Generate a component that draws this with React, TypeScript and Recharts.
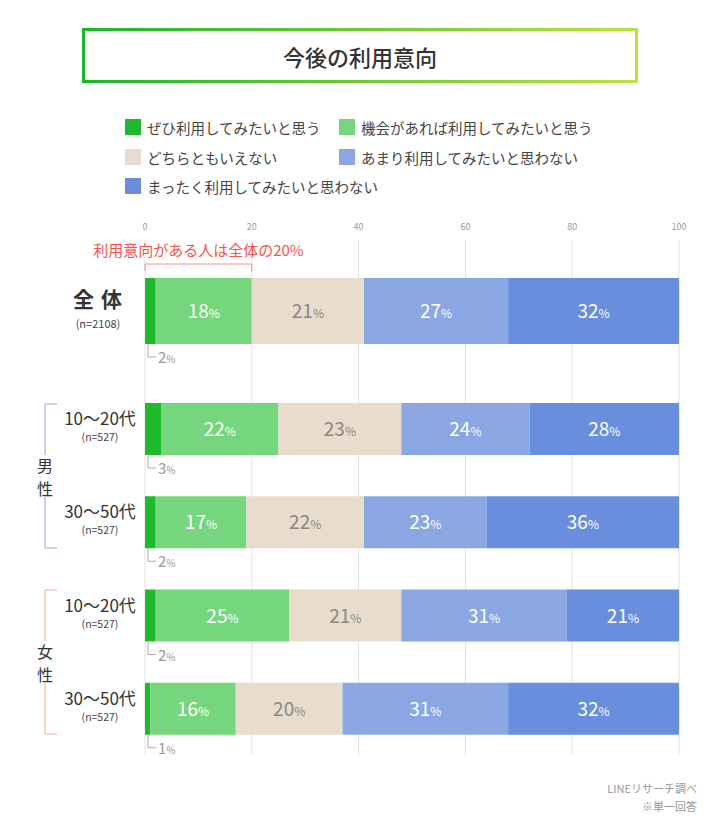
import { Bar, BarChart, CartesianGrid, LabelList, XAxis, YAxis } from "recharts";

const rowKeys = ["total", "m1", "m2", "f1", "f2"];
const rowLabels = ["全 体", "10〜20代", "30〜50代", "10〜20代", "30〜50代"];
const rowCounts = ["(n=2108)", "(n=527)", "(n=527)", "(n=527)", "(n=527)"];
const definitely = [2, 3, 2, 2, 1];
const ifChance = [18, 22, 17, 25, 16];
const neutral = [21, 23, 22, 21, 20];
const notMuch = [27, 24, 23, 31, 31];
const notAtAll = [32, 28, 36, 21, 32];
const seriesKeys = ["definitely", "ifChance", "neutral", "notMuch", "notAtAll"];
const seriesNames = [
  "ぜひ利用してみたいと思う",
  "機会があれば利用してみたいと思う",
  "どちらともいえない",
  "あまり利用してみたいと思わない",
  "まったく利用してみたいと思わない",
];
const seriesColors = ["#1dba2c", "#76d67e", "#e9dccd", "#8aa6e3", "#6a8ede"];
const xTicks = [0, 20, 40, 60, 80, 100];
const annotation = "利用意向がある人は全体の20%";

const data = rowKeys.map((key, i) => ({
  key,
  label: rowLabels[i],
  n: rowCounts[i],
  definitely: definitely[i],
  ifChance: ifChance[i],
  neutral: neutral[i],
  notMuch: notMuch[i],
  notAtAll: notAtAll[i],
}));

const FONT = '"Noto Sans CJK JP", "Noto Sans", sans-serif';
const LEFT = 145;
const RIGHT = 41;

function InnerLabel(props: any) {
  const { x, y, width, height, value, fill } = props;
  const cx = Number(x) + Number(width) / 2;
  const cy = Number(y) + Number(height) / 2 + 7;
  return (
    <text x={cx} y={cy} textAnchor="middle" fill={fill} fontFamily={FONT}>
      <tspan fontSize={19}>{value}</tspan>
      <tspan fontSize={12}>%</tspan>
    </text>
  );
}

// first segment: row label on the left, "└2%" callout below, bracket on the total row
function Callout(props: any) {
  const { x, y, width, height, value, index, rows, big } = props;
  const row = rows[index];
  const bx = Number(x);
  const top = Number(y);
  const bottom = top + Number(height);
  const mid = top + Number(height) / 2;
  const lx = bx + 3;
  const ly = bottom + 13;
  let bracket = null;
  if (big) {
    const perUnit = Number(width) / Number(value);
    const endX = bx + perUnit * (definitely[0] + ifChance[0]);
    const by = top - 14;
    bracket = (
      <g>
        <path d={`M${bx},${by + 7} V${by} H${endX} V${by + 7}`} fill="none" stroke="#f7948a" strokeWidth={1} />
        <text x={(bx + endX) / 2} y={by - 8} textAnchor="middle" fill="#f5544a" fontSize={15} fontFamily={FONT}>
          {annotation}
        </text>
      </g>
    );
  }
  const labelX = bx - (big ? 47 : 45);
  return (
    <g>
      {big ? (
        <>
          <text x={labelX} y={mid - 4} textAnchor="middle" fill="#333" fontSize={21} fontWeight={700} letterSpacing={1} fontFamily={FONT}>
            {row.label}
          </text>
          <text x={labelX} y={mid + 17} textAnchor="middle" fill="#444" fontSize={11} fontFamily={FONT}>
            {row.n}
          </text>
        </>
      ) : (
        <>
          <text x={labelX} y={mid - 4} textAnchor="middle" fill="#333" fontSize={17} fontFamily={FONT}>
            {row.label}
          </text>
          <text x={labelX} y={mid + 12} textAnchor="middle" fill="#444" fontSize={10.5} fontFamily={FONT}>
            {row.n}
          </text>
        </>
      )}
      <path d={`M${lx},${bottom} V${ly} H${lx + 8}`} fill="none" stroke="#aaa" strokeWidth={1} />
      <text x={lx + 10} y={ly + 6} fill="#999" fontFamily={FONT}>
        <tspan fontSize={15}>{value}</tspan>
        <tspan fontSize={10}>%</tspan>
      </text>
      {bracket}
    </g>
  );
}

function Series({ barSize, rows, big }: { barSize: number; rows: typeof data; big?: boolean }) {
  return seriesKeys.map((k, i) => (
    <Bar key={k} dataKey={k} name={seriesNames[i]} stackId="a" fill={seriesColors[i]} barSize={barSize} isAnimationActive={false}>
      {i === 0 ? (
        <LabelList dataKey={k} content={(p: any) => <Callout {...p} rows={rows} big={big} />} />
      ) : (
        <LabelList dataKey={k} content={(p: any) => <InnerLabel {...p} fill={i === 2 ? "#888" : "#fff"} />} />
      )}
    </Bar>
  ));
}

function Legend() {
  const pos = [
    [125, 127],
    [339, 127],
    [125, 157],
    [339, 157],
    [125, 186],
  ];
  return (
    <>
      {seriesNames.map((name, i) => (
        <div
          key={name}
          style={{ position: "absolute", left: pos[i][0], top: pos[i][1] - 10, display: "flex", alignItems: "center", height: 20 }}
        >
          <span style={{ width: 16, height: 16, background: seriesColors[i], display: "inline-block" }} />
          <span style={{ marginLeft: 6, fontSize: 14.5, color: "#444", whiteSpace: "nowrap" }}>{name}</span>
        </div>
      ))}
    </>
  );
}

export default function App() {
  const top = data.slice(0, 1);
  const rest = data.slice(1);
  return (
    <div style={{ position: "absolute", left: 0, top: 0, width: 720, height: 830, background: "#fff", fontFamily: FONT, overflow: "hidden" }}>
      <div
        style={{
          position: "absolute",
          left: 82,
          top: 28,
          width: 556,
          height: 55,
          background: "linear-gradient(90deg, #18b829 0%, #6ccb30 50%, #bde23e 100%)",
        }}
      >
        <div
          style={{
            position: "absolute",
            inset: 3,
            background: "#fff",
            display: "flex",
            alignItems: "center",
            justifyContent: "center",
            fontSize: 22,
            fontWeight: 500,
            color: "#333",
          }}
        >
          今後の利用意向
        </div>
      </div>

      <Legend />

      <div style={{ position: "absolute", left: 0, top: 200 }}>
        <BarChart width={720} height={182} data={top} layout="vertical" margin={{ top: 20, right: RIGHT, bottom: 0, left: LEFT }}>
          <CartesianGrid horizontal={false} stroke="#e2e2e2" />
          <XAxis
            type="number"
            domain={[0, 100]}
            ticks={xTicks}
            orientation="top"
            height={20}
            axisLine={false}
            tickLine={false}
            tickMargin={4}
            tick={{ fill: "#999", fontSize: 9, fontFamily: FONT }}
          />
          <YAxis type="category" dataKey="key" hide />
          {Series({ barSize: 66, rows: top, big: true })}
        </BarChart>
      </div>

      <div style={{ position: "absolute", left: 0, top: 382 }}>
        <BarChart width={720} height={390} data={rest} layout="vertical" margin={{ top: 0, right: RIGHT, bottom: 17, left: LEFT }}>
          <CartesianGrid horizontal={false} stroke="#e2e2e2" />
          <XAxis type="number" domain={[0, 100]} ticks={xTicks} hide />
          <YAxis type="category" dataKey="key" hide />
          {Series({ barSize: 52, rows: rest })}
        </BarChart>
      </div>

      <svg width={720} height={830} style={{ position: "absolute", left: 0, top: 0, pointerEvents: "none" }}>
        <path d="M57,404 H45 V455 M45,497 V548 H57" fill="none" stroke="#8aa6e3" strokeWidth={1} />
        <path d="M57,590 H45 V641 M45,683 V734 H57" fill="none" stroke="#f5a592" strokeWidth={1} />
        <text x={45} y={472} textAnchor="middle" fill="#333" fontSize={16} fontFamily={FONT}>男</text>
        <text x={45} y={495} textAnchor="middle" fill="#333" fontSize={16} fontFamily={FONT}>性</text>
        <text x={45} y={658} textAnchor="middle" fill="#333" fontSize={16} fontFamily={FONT}>女</text>
        <text x={45} y={681} textAnchor="middle" fill="#333" fontSize={16} fontFamily={FONT}>性</text>
      </svg>

      <div style={{ position: "absolute", right: 23, top: 779, textAlign: "right", fontSize: 11, color: "#999", lineHeight: "18px" }}>
        <div>LINEリサーチ調べ</div>
        <div>※単一回答</div>
      </div>
    </div>
  );
}
